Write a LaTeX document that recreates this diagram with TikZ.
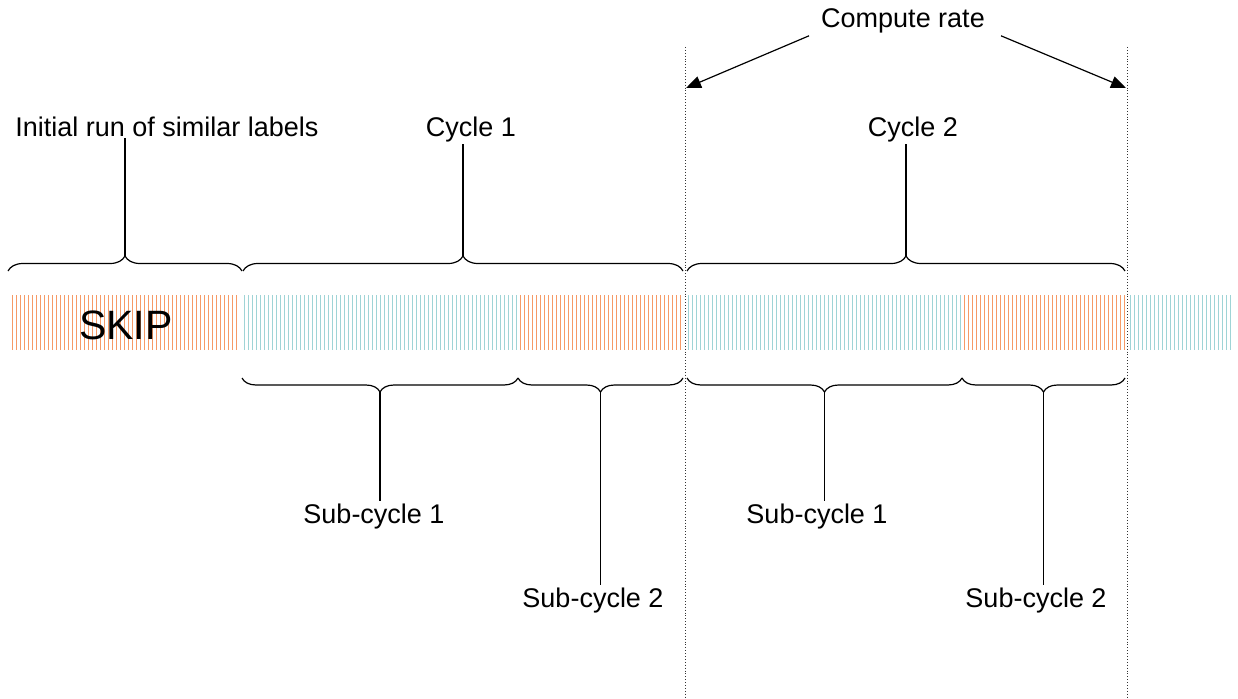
\documentclass[tikz,border=0pt]{standalone}
\usepackage{fontspec}
\setmainfont{Liberation Sans}
\usetikzlibrary{arrows.meta,decorations.pathreplacing}
\definecolor{runorange}{HTML}{F69A66}
\definecolor{runcyan}{HTML}{9FD4D6}
\definecolor{guidegrey}{HTML}{333333}

\begin{document}
\begin{tikzpicture}[x=1pt, y=1pt,
    lbl/.style={font=\fontsize{27}{30}\selectfont, inner sep=2pt, anchor=base},
    orstripe/.style={runorange, line width=1.4pt},
    cystripe/.style={runcyan, line width=1.4pt},
    upbrace/.style={decorate, decoration={brace, amplitude=15pt}, line width=1.2pt},
    downbrace/.style={decorate, decoration={brace, amplitude=14pt}, line width=1.2pt},
    lead/.style={line width=1.2pt},
    cut/.style={guidegrey, dotted, line width=0.9pt}]
        \useasboundingbox (0,0) rectangle (1238,-698);

        % Label run (stripes)
        \foreach \x in {12.5,16.5,...,236.5} \draw[orstripe] (\x,-295) -- (\x,-350);
        \foreach \x in {244.5,248.5,...,516.5} \draw[cystripe] (\x,-295) -- (\x,-350);
        \foreach \x in {520.5,524.5,...,680.5} \draw[orstripe] (\x,-295) -- (\x,-350);
        \foreach \x in {688.5,692.5,...,960.5} \draw[cystripe] (\x,-295) -- (\x,-350);
        \foreach \x in {964.5,968.5,...,1124.5} \draw[orstripe] (\x,-295) -- (\x,-350);
        \foreach \x in {1130.5,1134.5,...,1230.5} \draw[cystripe] (\x,-295) -- (\x,-350);
        \node[font=\fontsize{41}{44}\selectfont] (skip) at (126,-325) {SKIP};

        % Cycle borders
        \coordinate (cutA) at (685,-47);
        \coordinate (cutB) at (1127,-47);
        \draw[cut] (cutA) -- (685,-698);
        \draw[cut] (cutB) -- (1127,-698);

        % Compute rate
        \node[lbl] (rate) at (903,-28) {Compute rate};
        \coordinate (hitA) at (686,-88);
        \coordinate (hitB) at (1126,-88);
        \draw[lead, -{Triangle[length=15pt,width=12pt]}] ([xshift=-10pt]rate.south west) -- (hitA);
        \draw[lead, -{Triangle[length=15pt,width=12pt]}] ([xshift=14pt]rate.south east) -- (hitB);

        % Braces above
        \draw[upbrace] (8,-271) -- (242,-271);
        \draw[upbrace] (243,-271) -- (683,-271);
        \draw[upbrace] (687,-271) -- (1125,-271);
        \coordinate (tipInit) at (125,-256);
        \coordinate (tipCycA) at (463,-256);
        \coordinate (tipCycB) at (906,-256);

        \node[lbl] (init) at (167,-136) {Initial run of similar labels};
        \node[lbl] (cycA) at (471,-136) {Cycle 1};
        \node[lbl] (cycB) at (913,-136) {Cycle 2};
        \draw[lead] (tipInit) -- (tipInit |- init.south);
        \draw[lead] (tipCycA) -- (tipCycA |- cycA.south);
        \draw[lead] (tipCycB) -- (tipCycB |- cycB.south);

        % Braces below
        \draw[downbrace] (518,-378) -- (242,-378);
        \draw[downbrace] (683,-378) -- (518,-378);
        \draw[downbrace] (962,-378) -- (687,-378);
        \draw[downbrace] (1125,-378) -- (962,-378);
        \coordinate (tipSubA) at (380,-392);
        \coordinate (tipSubB) at (600.5,-392);
        \coordinate (tipSubC) at (824.5,-392);
        \coordinate (tipSubD) at (1043.5,-392);

        \node[lbl] (subA) at (374,-523) {Sub-cycle 1};
        \node[lbl] (subB) at (593,-607) {Sub-cycle 2};
        \node[lbl] (subC) at (817,-523) {Sub-cycle 1};
        \node[lbl] (subD) at (1036,-607) {Sub-cycle 2};
        \draw[lead] (tipSubA) -- (tipSubA |- subA.north);
        \draw[lead] (tipSubB) -- (tipSubB |- subB.north);
        \draw[lead] (tipSubC) -- (tipSubC |- subC.north);
        \draw[lead] (tipSubD) -- (tipSubD |- subD.north);
      \end{tikzpicture}
\end{document}
